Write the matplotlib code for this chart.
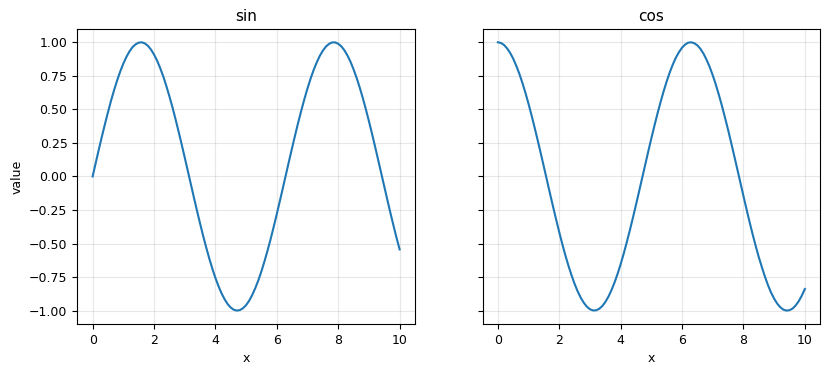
import matplotlib
matplotlib.use("Agg")
import matplotlib.pyplot as plt

# values, every 0.1 along x
x = [0.0, 0.1, 0.2, 0.3, 0.4, 0.5, 0.6, 0.7, 0.8, 0.9,
     1.0, 1.1, 1.2, 1.3, 1.4, 1.5, 1.6, 1.7, 1.8, 1.9,
     2.0, 2.1, 2.2, 2.3, 2.4, 2.5, 2.6, 2.7, 2.8, 2.9,
     3.0, 3.1, 3.2, 3.3, 3.4, 3.5, 3.6, 3.7, 3.8, 3.9,
     4.0, 4.1, 4.2, 4.3, 4.4, 4.5, 4.6, 4.7, 4.8, 4.9,
     5.0, 5.1, 5.2, 5.3, 5.4, 5.5, 5.6, 5.7, 5.8, 5.9,
     6.0, 6.1, 6.2, 6.3, 6.4, 6.5, 6.6, 6.7, 6.8, 6.9,
     7.0, 7.1, 7.2, 7.3, 7.4, 7.5, 7.6, 7.7, 7.8, 7.9,
     8.0, 8.1, 8.2, 8.3, 8.4, 8.5, 8.6, 8.7, 8.8, 8.9,
     9.0, 9.1, 9.2, 9.3, 9.4, 9.5, 9.6, 9.7, 9.8, 9.9, 10.0]

sin_vals = [0.000, 0.100, 0.199, 0.296, 0.389, 0.479, 0.565, 0.644, 0.717, 0.783,
            0.841, 0.891, 0.932, 0.964, 0.985, 0.997, 1.000, 0.992, 0.974, 0.946,
            0.909, 0.863, 0.808, 0.746, 0.675, 0.598, 0.516, 0.427, 0.335, 0.239,
            0.141, 0.042, -0.058, -0.158, -0.256, -0.351, -0.443, -0.530, -0.612, -0.688,
            -0.757, -0.818, -0.872, -0.916, -0.952, -0.978, -0.994, -1.000, -0.996, -0.982,
            -0.959, -0.926, -0.883, -0.832, -0.773, -0.706, -0.631, -0.551, -0.465, -0.374,
            -0.279, -0.182, -0.083, 0.017, 0.117, 0.215, 0.312, 0.405, 0.494, 0.578,
            0.657, 0.729, 0.794, 0.850, 0.899, 0.938, 0.968, 0.988, 0.999, 0.999,
            0.989, 0.970, 0.941, 0.902, 0.855, 0.798, 0.734, 0.663, 0.585, 0.501,
            0.412, 0.319, 0.223, 0.124, 0.025, -0.075, -0.174, -0.272, -0.366, -0.458, -0.544]

cos_vals = [1.000, 0.995, 0.980, 0.955, 0.921, 0.878, 0.825, 0.765, 0.697, 0.622,
            0.540, 0.454, 0.362, 0.267, 0.170, 0.071, -0.029, -0.129, -0.227, -0.323,
            -0.416, -0.505, -0.589, -0.666, -0.737, -0.801, -0.857, -0.904, -0.942, -0.971,
            -0.990, -0.999, -0.998, -0.987, -0.967, -0.936, -0.897, -0.848, -0.791, -0.726,
            -0.654, -0.575, -0.490, -0.401, -0.307, -0.211, -0.112, -0.012, 0.087, 0.187,
            0.284, 0.378, 0.469, 0.554, 0.635, 0.709, 0.776, 0.835, 0.886, 0.927,
            0.960, 0.983, 0.997, 1.000, 0.993, 0.977, 0.951, 0.915, 0.869, 0.816,
            0.754, 0.685, 0.608, 0.526, 0.438, 0.347, 0.251, 0.153, 0.054, -0.046,
            -0.146, -0.244, -0.340, -0.432, -0.519, -0.602, -0.676, -0.747, -0.811, -0.866,
            -0.911, -0.948, -0.975, -0.993, -1.000, -0.997, -0.985, -0.962, -0.930, -0.889, -0.839]

titles = ["sin", "cos"]

fig, axes = plt.subplots(1, 2, figsize=(8.31, 3.75), dpi=100, sharey=True)
plt.subplots_adjust(left=0.093, right=0.987, bottom=0.136, top=0.923, wspace=0.2)

for ax, ys, title in zip(axes, [sin_vals, cos_vals], titles):
    ax.plot(x, ys, color="#1f77b4", lw=1.5)
    ax.set_title(title, fontsize=11)
    ax.set_xlabel("x", fontsize=9)
    ax.grid(True, alpha=0.3)
    ax.tick_params(labelsize=9)

axes[0].set_ylabel("value", fontsize=9)

fig.savefig("out.png", dpi=100)
